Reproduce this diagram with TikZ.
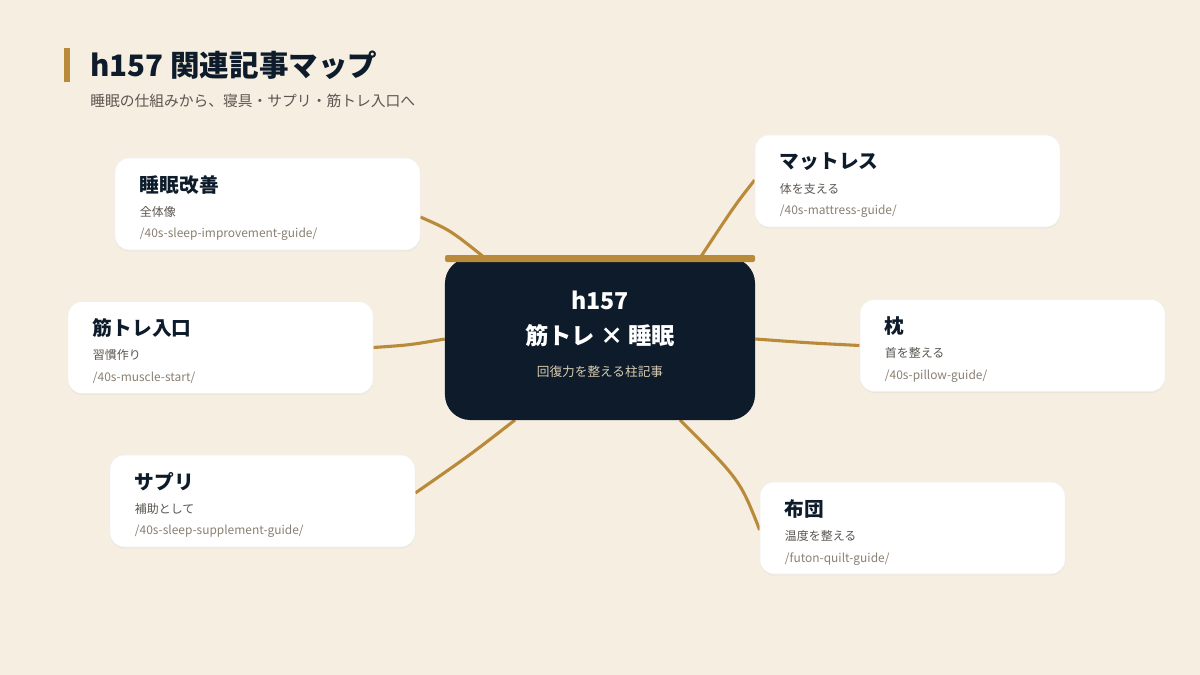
\documentclass[tikz,border=0pt]{standalone}
\usepackage{fontspec}
\setmainfont{Noto Sans CJK JP}
\usetikzlibrary{positioning,calc,shadows,backgrounds}
\definecolor{bgc}{HTML}{F5EEE1}
\definecolor{navy}{HTML}{0D1B2A}
\definecolor{gold}{HTML}{B88A3A}
\definecolor{subc}{HTML}{5A5550}
\definecolor{urlc}{HTML}{8A7F72}
\definecolor{cdsub}{HTML}{D8CBB0}

\begin{document}
\begin{tikzpicture}[x=0.025cm,y=-0.025cm,
      card/.style={rectangle, rounded corners=10pt, fill=white, draw=black!6, minimum width=7.625cm, minimum height=2.3cm, drop shadow={opacity=0.08, shadow xshift=0pt, shadow yshift=-1pt}},
      ttl/.style={anchor=west, inner sep=0pt, font=\fontsize{14}{16}\selectfont\bfseries, text=navy},
      sub/.style={anchor=west, inner sep=0pt, font=\fontsize{8.5}{10}\selectfont, text=subc},
      url/.style={anchor=west, inner sep=0pt, font=\fontsize{8.5}{10}\selectfont, text=urlc},
      link/.style={draw=gold, line width=2.2pt}]

% title
\fill[gold] (64,48) rectangle (70,82);
\node[anchor=west, inner sep=0pt, font=\fontsize{21}{24}\selectfont\bfseries, text=navy] (title) at (90,65) {h157 関連記事マップ};
\node[anchor=west, inner sep=0pt, font=\fontsize{10.5}{12}\selectfont, text=subc] (subtitle) at (90,101) {睡眠の仕組みから、寝具・サプリ・筋トレ入口へ};

% center
\node[rectangle, rounded corners=18pt, fill=navy, minimum width=7.75cm, minimum height=4.05cm] (hub) at (600,339) {};
\fill[gold, rounded corners=1.5pt] (445,255) rectangle (755,262);
\node[font=\fontsize{16.5}{19}\selectfont\bfseries, text=white, inner sep=0pt] (hubA) at (600,300) {h157};
\node[font=\fontsize{16.5}{19}\selectfont\bfseries, text=white, inner sep=0pt] (hubB) at (600,336) {筋トレ × 睡眠};
\node[font=\fontsize{9}{10}\selectfont, text=cdsub, inner sep=0pt] (hubC) at (600,372) {回復力を整える柱記事};

% cards
\node[card] (sleep) at (267.5,204) {};
\node[ttl] at ($(sleep.north west)+(25,27)$) {睡眠改善};
\node[sub] at ($(sleep.north west)+(25,54)$) {全体像};
\node[url] at ($(sleep.north west)+(25,77)$) {/40s-sleep-improvement-guide/};

\node[card] (mat) at (907.5,181) {};
\node[ttl] at ($(mat.north west)+(25,27)$) {マットレス};
\node[sub] at ($(mat.north west)+(25,54)$) {体を支える};
\node[url] at ($(mat.north west)+(25,77)$) {/40s-mattress-guide/};

\node[card] (muscle) at (220.5,347.5) {};
\node[ttl] at ($(muscle.north west)+(25,27)$) {筋トレ入口};
\node[sub] at ($(muscle.north west)+(25,54)$) {習慣作り};
\node[url] at ($(muscle.north west)+(25,77)$) {/40s-muscle-start/};

\node[card] (pillow) at (1012.5,345.5) {};
\node[ttl] at ($(pillow.north west)+(25,27)$) {枕};
\node[sub] at ($(pillow.north west)+(25,54)$) {首を整える};
\node[url] at ($(pillow.north west)+(25,77)$) {/40s-pillow-guide/};

\node[card] (supp) at (262.5,501) {};
\node[ttl] at ($(supp.north west)+(25,27)$) {サプリ};
\node[sub] at ($(supp.north west)+(25,54)$) {補助として};
\node[url] at ($(supp.north west)+(25,77)$) {/40s-sleep-supplement-guide/};

\node[card] (futon) at (912.5,528) {};
\node[ttl] at ($(futon.north west)+(25,27)$) {布団};
\node[sub] at ($(futon.north west)+(25,54)$) {温度を整える};
\node[url] at ($(futon.north west)+(25,77)$) {/futon-quilt-guide/};

% links
\begin{scope}[on background layer]
\fill[bgc] (0,0) rectangle (1200,675);
\coordinate (hsl) at (485,258);
\coordinate (hmt) at (700,258);
\coordinate (hsp) at (515,420);
\coordinate (hft) at (680,420);
\draw[link] (sleep.east|-0,217) .. controls (450,230) .. (hsl);
\draw[link] (mat.west|-0,180) .. controls (735,205) .. (hmt);
\draw[link] (muscle.east) .. controls (410,345) .. (hub.west);
\draw[link] (pillow.west) .. controls (810,343) .. (hub.east);
\draw[link] (supp.east|-0,493) .. controls (470,455) .. (hsp);
\draw[link] (futon.west|-0,530) .. controls (740,480) .. (hft);
\end{scope}
\end{tikzpicture}
\end{document}
